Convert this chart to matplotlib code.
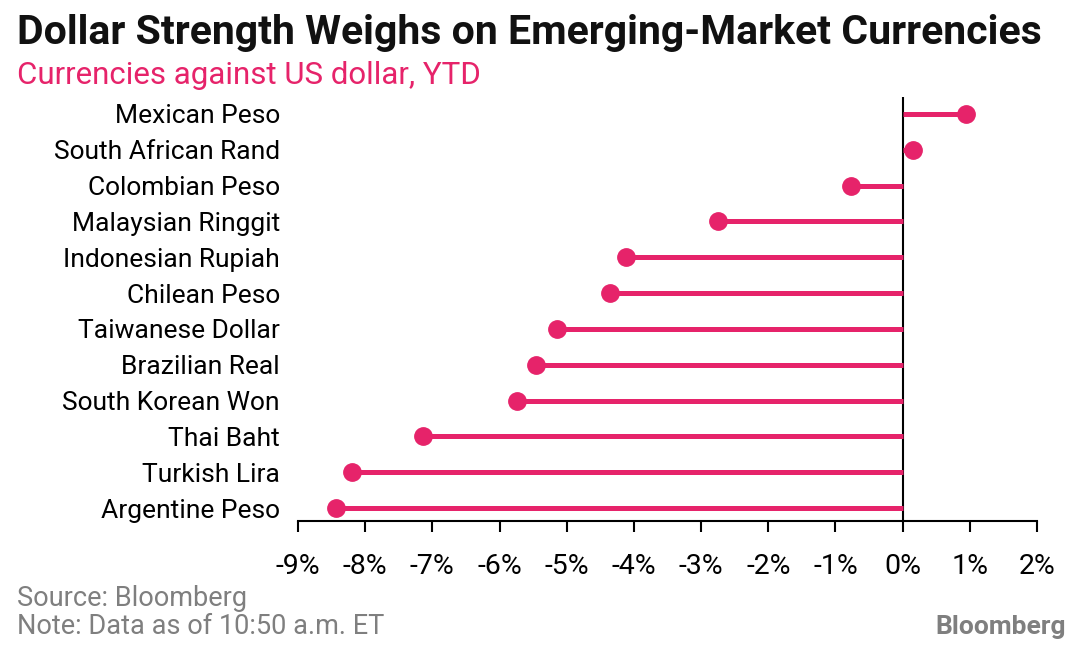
import matplotlib.pyplot as plt
from matplotlib.ticker import FuncFormatter

# ── DATA ──────────────────────────────────────────────────────────────────────
currencies = ["Mexican Peso", "South African Rand", "Colombian Peso", "Malaysian Ringgit",
              "Indonesian Rupiah", "Chilean Peso", "Taiwanese Dollar", "Brazilian Real",
              "South Korean Won", "Thai Baht", "Turkish Lira", "Argentine Peso"]
ytd_change = [0.95, 0.16, -0.77, -2.75, -4.12, -4.35, -5.15, -5.45, -5.74, -7.14, -8.20, -8.44]
x_ticks = [-9, -8, -7, -6, -5, -4, -3, -2, -1, 0, 1, 2]

# ── STYLE ─────────────────────────────────────────────────────────────────────
PINK = "#E6236A"
GRAY = "#7F7F7F"
plt.rcParams["font.family"] = ["Roboto", "DejaVu Sans"]

fig = plt.figure(figsize=(10.81, 6.48), dpi=100)
ax = fig.add_axes([298 / 1081, 1 - 521 / 648, 739 / 1081, 424 / 648])

ypos = list(range(len(currencies)))
ax.hlines(ypos, 0, ytd_change, color=PINK, lw=3.6, zorder=2)
ax.plot(ytd_change, ypos, "o", color=PINK, ms=12.5, zorder=3)
ax.axvline(0, color="black", lw=1.5, zorder=1)

ax.set_xlim(-9, 2)
ax.set_ylim(11.36, -0.47)
ax.set_xticks(x_ticks)
ax.xaxis.set_major_formatter(FuncFormatter(lambda v, _: f"{v:.0f}%"))
ax.set_yticks(ypos)
ax.set_yticklabels(currencies)

for s in ["top", "right", "left"]:
    ax.spines[s].set_visible(False)
ax.spines["bottom"].set_linewidth(1.5)
ax.tick_params(axis="x", length=8, width=1.5, direction="out", pad=15, labelsize=20.5)
ax.tick_params(axis="y", length=0, pad=13, labelsize=19)

# ── TEXT ──────────────────────────────────────────────────────────────────────
fig.text(17 / 1081, 1 - 33 / 648, "Dollar Strength Weighs on Emerging-Market Currencies",
         fontsize=29.5, fontweight="bold", color="#111111", va="center", ha="left")
fig.text(17 / 1081, 1 - 75 / 648, "Currencies against US dollar, YTD",
         fontsize=22.5, color=PINK, va="center", ha="left")
fig.text(17 / 1081, 1 - 598 / 648, "Source: Bloomberg", fontsize=19.5, color=GRAY, va="center")
fig.text(17 / 1081, 1 - 627 / 648, "Note: Data as of 10:50 a.m. ET", fontsize=19.5, color=GRAY, va="center")
fig.text(1066 / 1081, 1 - 627 / 648, "Bloomberg", fontsize=19, fontweight="bold",
         color=GRAY, va="center", ha="right")

plt.savefig("out.png", dpi=100)
